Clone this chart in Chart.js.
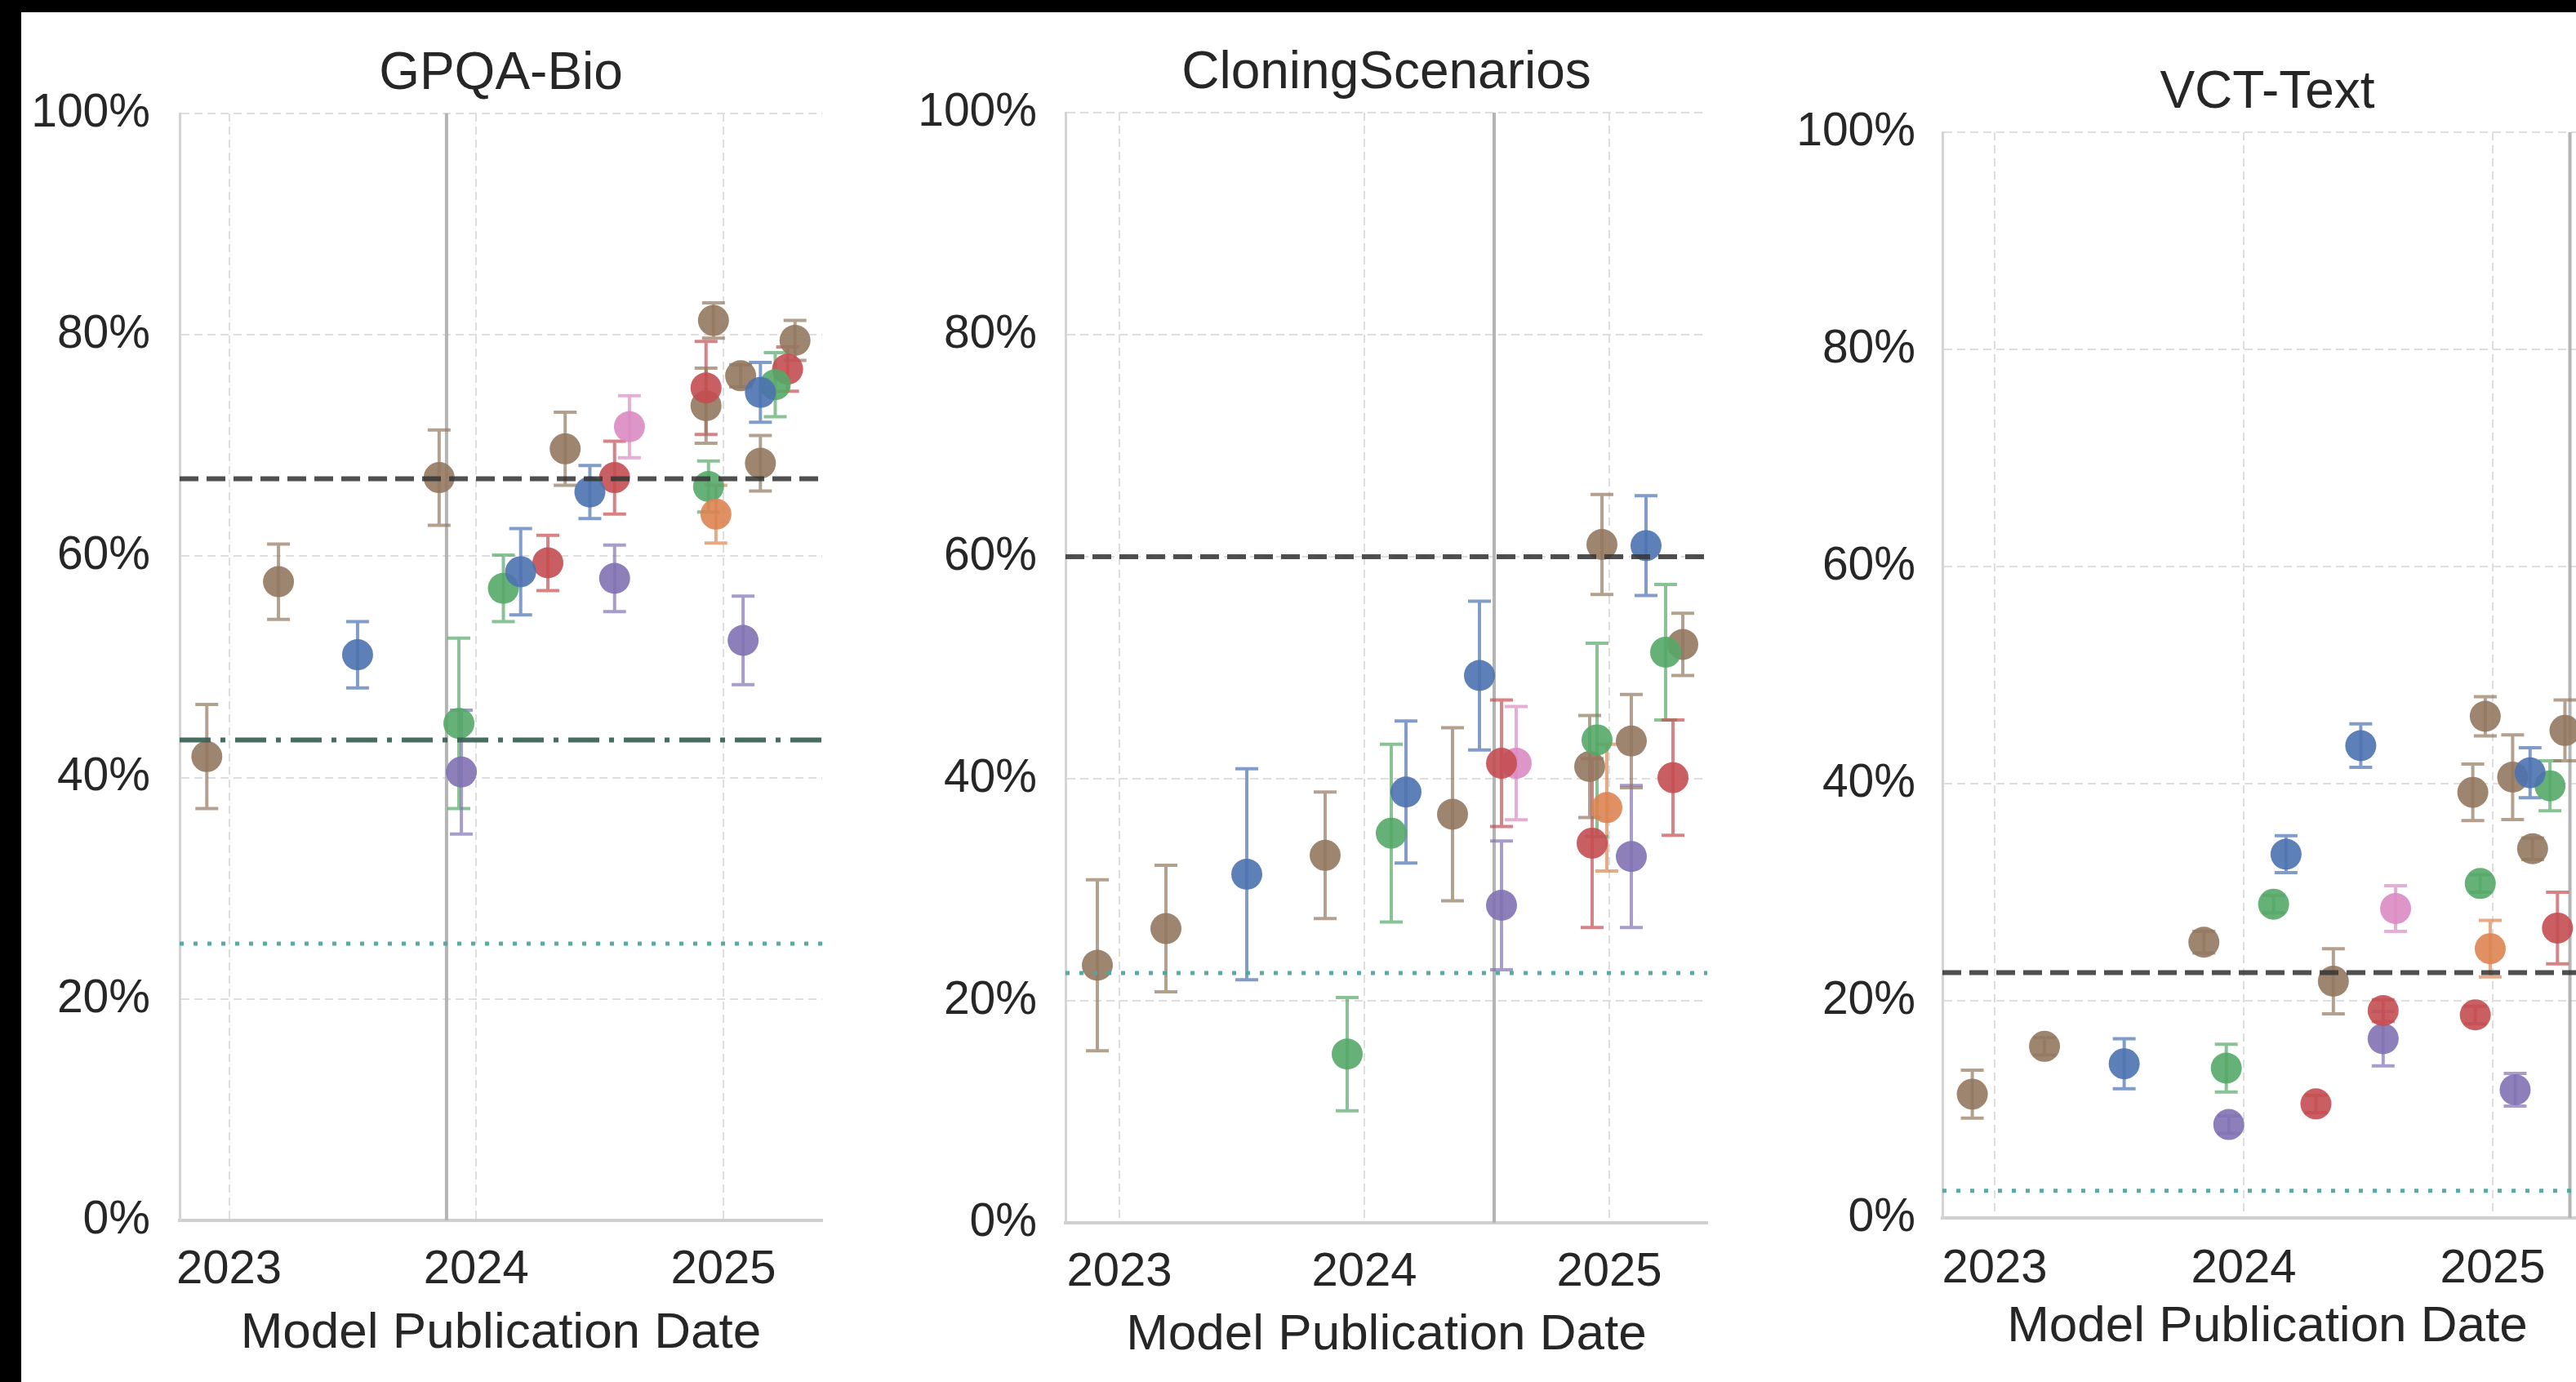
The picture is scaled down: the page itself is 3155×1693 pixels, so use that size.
<!DOCTYPE html>
<html>
<head>
<meta charset="utf-8">
<script src="https://cdn.jsdelivr.net/npm/chart.js@4.4.1/dist/chart.umd.min.js"></script>
<style>
  html, body { margin: 0; padding: 0; background: #fff; overflow: hidden; }
  #page { position: relative; width: 3155px; height: 1693px; overflow: hidden; background: #fff; }
  canvas { position: absolute; top: 0; }
  .edge { position: absolute; background: #000; z-index: 5; }
</style>
</head>
<body>
<div id="page">
  <canvas id="gpqa" width="1030" height="1693" style="left:26px"></canvas>
  <canvas id="cloning" width="1064" height="1693" style="left:1056px"></canvas>
  <canvas id="vct" width="1100" height="1693" style="left:2120px"></canvas>
  <div class="edge" style="left:0;top:0;width:3155px;height:15px"></div>
  <div class="edge" style="left:0;top:0;width:26px;height:1693px"></div>
</div>
<script>
// colours of the model families (seaborn "deep")
const familyColors = {
    blue: '#4C72B0', orange: '#DD8452', green: '#55A868', red: '#C44E52',
    purple: '#8172B3', brown: '#937860', pink: '#DA8BC3'
};
const familyOrder = ['blue', 'orange', 'green', 'red', 'purple', 'brown', 'pink'];
const yearTicks = [2023, 2024, 2025];
const percentTicks = [0, 20, 40, 60, 80, 100];

// GPQA-Bio
const gpqaDates = [2022.91, 2023.20, 2023.52, 2023.85, 2023.93, 2023.94, 2024.11, 2024.18, 2024.29, 2024.36, 2024.46, 2024.56, 2024.56, 2024.62, 2024.93, 2024.93, 2024.94, 2024.96, 2024.97, 2025.07, 2025.08, 2025.15, 2025.15, 2025.21, 2025.26, 2025.29];
const gpqaScores = [41.9, 57.7, 51.1, 67.1, 44.9, 40.5, 57.1, 58.6, 59.4, 69.7, 65.8, 67.1, 58.0, 71.7, 75.2, 73.6, 66.3, 81.3, 63.8, 76.3, 52.4, 74.8, 68.4, 75.5, 76.9, 79.5];
const gpqaErrors = [4.7, 3.4, 3.0, 4.3, 7.7, 5.6, 3.0, 3.9, 2.5, 3.3, 2.4, 3.3, 3.0, 2.8, 4.2, 3.4, 2.3, 1.6, 2.6, 1.0, 4.0, 2.7, 2.5, 2.9, 2.0, 1.8];
const gpqaFamilies = ['brown', 'brown', 'blue', 'brown', 'green', 'purple', 'green', 'blue', 'red', 'brown', 'blue', 'red', 'purple', 'pink', 'red', 'brown', 'green', 'brown', 'orange', 'brown', 'purple', 'blue', 'brown', 'green', 'red', 'brown'];
const gpqaExpert = 67.0;
const gpqaBaseline = 43.4;
const gpqaChance = 25.0;
const gpqaCutoff = 2023.88;

// CloningScenarios
const cloningDates = [2022.91, 2023.19, 2023.52, 2023.84, 2023.93, 2024.11, 2024.17, 2024.36, 2024.47, 2024.56, 2024.56, 2024.62, 2024.92, 2024.93, 2024.95, 2024.97, 2024.99, 2025.09, 2025.09, 2025.15, 2025.23, 2025.26, 2025.30];
const cloningScores = [23.2, 26.5, 31.4, 33.1, 15.2, 35.1, 38.8, 36.8, 49.3, 41.4, 28.6, 41.4, 41.1, 34.2, 43.5, 61.1, 37.4, 43.4, 33.0, 61.0, 51.4, 40.1, 52.1];
const cloningErrors = [7.7, 5.7, 9.5, 5.7, 5.1, 8.0, 6.4, 7.8, 6.7, 5.7, 5.8, 5.1, 4.6, 7.6, 8.7, 4.5, 5.7, 4.2, 6.4, 4.5, 6.1, 5.2, 2.8];
const cloningFamilies = ['brown', 'brown', 'blue', 'brown', 'green', 'green', 'blue', 'brown', 'blue', 'red', 'purple', 'pink', 'brown', 'red', 'green', 'brown', 'orange', 'brown', 'purple', 'blue', 'green', 'red', 'brown'];
const cloningExpert = 60.0;
const cloningChance = 22.5;
const cloningCutoff = 2024.53;

// VCT-Text
const vctDates = [2022.91, 2023.20, 2023.52, 2023.84, 2023.93, 2023.94, 2024.12, 2024.17, 2024.29, 2024.36, 2024.47, 2024.56, 2024.56, 2024.61, 2024.92, 2024.93, 2024.95, 2024.97, 2024.99, 2025.08, 2025.09, 2025.15, 2025.16, 2025.23, 2025.26, 2025.29];
const vctScores = [11.4, 15.8, 14.2, 25.4, 13.8, 8.6, 28.9, 33.5, 10.5, 21.8, 43.5, 19.1, 16.5, 28.5, 39.2, 18.7, 30.8, 46.2, 24.8, 40.6, 11.8, 41.0, 34.0, 39.8, 26.7, 44.9];
const vctErrors = [2.2, 0.8, 2.3, 1.0, 2.2, 0.8, 0.8, 1.7, 0.8, 3.0, 2.0, 1.0, 2.5, 2.1, 2.6, 0.8, 0.8, 1.8, 2.6, 3.9, 1.5, 2.3, 1.0, 2.3, 3.3, 2.8];
const vctFamilies = ['brown', 'brown', 'blue', 'brown', 'green', 'purple', 'green', 'blue', 'red', 'brown', 'blue', 'red', 'purple', 'pink', 'brown', 'red', 'green', 'brown', 'orange', 'brown', 'purple', 'blue', 'brown', 'green', 'red', 'brown'];
const vctExpert = 22.6;
const vctChance = 2.5;
const vctCutoff = 2025.31;

const FONT = "'Liberation Sans', Arial, sans-serif";
const TEXT = '#262626';

function rgba(hex, a) {
    const n = parseInt(hex.slice(1), 16);
    return `rgba(${n >> 16},${(n >> 8) & 255},${n & 255},${a})`;
}

// title centred over the plot area, like matplotlib's ax.set_title
const panelTitlePlugin = {
    id: 'panelTitle',
    afterDraw(chart, args, opts) {
        const { ctx, chartArea } = chart;
        ctx.save();
        ctx.fillStyle = TEXT;
        ctx.font = `64px ${FONT}`;
        ctx.textAlign = 'center';
        ctx.textBaseline = 'middle';
        ctx.fillText(opts.text, (chartArea.left + chartArea.right) / 2, chartArea.top - 48);
        ctx.restore();
    }
};

// cutoff line and error bars go under the markers
const underPlugin = {
    id: 'under',
    beforeDatasetsDraw(chart, args, opts) {
        const { ctx, chartArea, scales: { x, y } } = chart;
        ctx.save();
        ctx.beginPath();
        ctx.rect(chartArea.left, chartArea.top, chartArea.right - chartArea.left, chartArea.bottom - chartArea.top);
        ctx.clip();
        if (opts.cutoff != null) {
            const cx = x.getPixelForValue(opts.cutoff);
            ctx.strokeStyle = '#b4b4b4';
            ctx.lineWidth = 4;
            ctx.beginPath();
            ctx.moveTo(cx, chartArea.top);
            ctx.lineTo(cx, chartArea.bottom);
            ctx.stroke();
        }
        ctx.lineWidth = 4;
        chart.data.datasets.forEach(ds => {
            ctx.strokeStyle = ds.errorColor;
            ds.data.forEach(p => {
                const px = x.getPixelForValue(p.x);
                const top = y.getPixelForValue(p.y + p.err);
                const bot = y.getPixelForValue(p.y - p.err);
                ctx.beginPath();
                ctx.moveTo(px, top); ctx.lineTo(px, bot);
                ctx.moveTo(px - 14, top); ctx.lineTo(px + 14, top);
                ctx.moveTo(px - 14, bot); ctx.lineTo(px + 14, bot);
                ctx.stroke();
            });
        });
        ctx.restore();
    }
};

// reference levels are drawn over the markers
const refPlugin = {
    id: 'refs',
    afterDatasetsDraw(chart, args, opts) {
        const { ctx, chartArea, scales: { y } } = chart;
        const hline = (v, color, width, dash) => {
            if (v == null) return;
            const py = y.getPixelForValue(v);
            ctx.save();
            ctx.strokeStyle = color;
            ctx.lineWidth = width;
            ctx.setLineDash(dash);
            ctx.beginPath();
            ctx.moveTo(chartArea.left, py);
            ctx.lineTo(chartArea.right, py);
            ctx.stroke();
            ctx.restore();
        };
        hline(opts.chance, 'rgba(80,165,160,0.95)', 5, [5, 12]);
        hline(opts.baseline, 'rgba(55,95,82,0.92)', 6, [38, 12, 6, 12]);
        hline(opts.expert, 'rgba(55,55,55,0.88)', 6, [23, 10]);
    }
};

function buildDatasets(dates, scores, errors, families) {
    return familyOrder.filter(f => families.includes(f)).map(f => {
        const pts = [];
        dates.forEach((d, i) => {
            if (families[i] === f) pts.push({ x: d, y: scores[i], err: errors[i] });
        });
        return {
            label: f,
            data: pts,
            backgroundColor: rgba(familyColors[f], 0.9),
            errorColor: rgba(familyColors[f], 0.7),
            pointRadius: 19,
            pointBorderWidth: 0,
            pointHoverRadius: 19
        };
    });
}

function drawPanel(id, title, dates, scores, errors, families, refs, frame) {
    const grid = { color: '#dedede', lineWidth: 2, drawTicks: false };
    new Chart(document.getElementById(id), {
        type: 'scatter',
        data: { datasets: buildDatasets(dates, scores, errors, families) },
        options: {
            responsive: false,
            animation: false,
            events: [],
            layout: { padding: { left: 0, right: frame.padRight, top: frame.chartTop, bottom: 0 } },
            plugins: {
                legend: { display: false },
                tooltip: { enabled: false },
                title: { display: false },
                panelTitle: { text: title },
                under: { cutoff: refs.cutoff },
                refs: refs
            },
            scales: {
                x: {
                    type: 'linear',
                    min: frame.xMin,
                    max: frame.xMax,
                    afterBuildTicks: s => { s.ticks = yearTicks.map(v => ({ value: v })); },
                    afterFit: s => { s.height = 1693 - frame.chartBottom; },
                    grid: grid,
                    border: { display: true, color: '#cfcfcf', width: 4, dash: [10, 6] },
                    ticks: {
                        color: TEXT,
                        padding: frame.xTickPad,
                        font: { family: FONT, size: 58 },
                        callback: v => String(v),
                        maxRotation: 0
                    },
                    title: {
                        display: true,
                        text: 'Model Publication Date',
                        color: TEXT,
                        font: { family: FONT, size: 62 },
                        padding: { top: 0, bottom: frame.xTitlePad }
                    }
                },
                y: {
                    min: 0,
                    max: 100,
                    afterBuildTicks: s => { s.ticks = percentTicks.map(v => ({ value: v })); },
                    afterFit: s => { s.width = frame.yWidth; },
                    grid: grid,
                    border: { display: true, color: '#d4d4d4', width: 3, dash: [10, 6] },
                    ticks: {
                        color: TEXT,
                        padding: frame.yTickPad,
                        font: { family: FONT, size: 57 },
                        callback: v => v + '%'
                    }
                }
            }
        },
        plugins: [underPlugin, refPlugin, panelTitlePlugin]
    });
}

drawPanel('gpqa', 'GPQA-Bio', gpqaDates, gpqaScores, gpqaErrors, gpqaFamilies,
    { expert: gpqaExpert, baseline: gpqaBaseline, chance: gpqaChance, cutoff: gpqaCutoff },
    { yWidth: 194, padRight: 49, chartTop: 139, chartBottom: 1495, xTickPad: 26, xTitlePad: 22, yTickPad: 36, xMin: 2022.80, xMax: 2025.40 });

drawPanel('cloning', 'CloningScenarios', cloningDates, cloningScores, cloningErrors, cloningFamilies,
    { expert: cloningExpert, chance: cloningChance, cutoff: cloningCutoff },
    { yWidth: 249, padRight: 29, chartTop: 138, chartBottom: 1498, xTickPad: 26, xTitlePad: 20, yTickPad: 35, xMin: 2022.78, xMax: 2025.40 });

drawPanel('vct', 'VCT-Text', vctDates, vctScores, vctErrors, vctFamilies,
    { expert: vctExpert, chance: vctChance, cutoff: vctCutoff },
    { yWidth: 259, padRight: 45, chartTop: 162, chartBottom: 1492, xTickPad: 28, xTitlePad: 30, yTickPad: 33, xMin: 2022.79, xMax: 2025.40 });
</script>
</body>
</html>
